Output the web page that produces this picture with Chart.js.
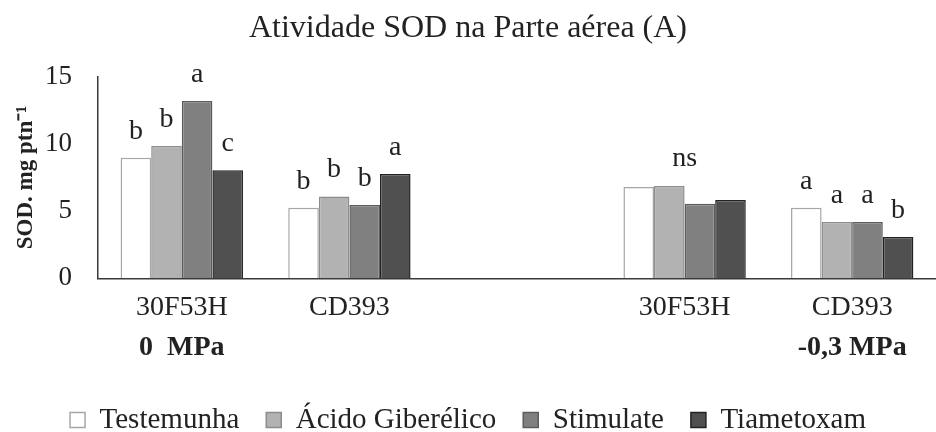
<!DOCTYPE html>
<html>
<head>
<meta charset="utf-8">
<script src="https://cdn.jsdelivr.net/npm/chart.js@4/dist/chart.umd.min.js"></script>
<style>
  html, body { margin: 0; padding: 0; background: #ffffff; }
  #wrap { width: 936px; height: 432px; }
</style>
</head>
<body>
<div id="wrap"><canvas id="c" width="936" height="432"></canvas></div>
<script>
// ---- data ----
const categories = ["30F53H", "CD393", "", "30F53H", "CD393"];
const pressureLabels = ["0  MPa", "", "", "", "-0,3 MPa"];
const seriesNames = ["Testemunha", "Ácido Giberélico", "Stimulate", "Tiametoxam"];
const testemunha = [8.97, 5.25, null, 6.79, 5.25];
const acidoGiberelico = [9.84, 6.09, null, 6.87, 4.19];
const stimulate = [13.19, 5.45, null, 5.55, 4.19];
const tiametoxam = [8.04, 7.76, null, 5.83, 3.07];
const lettersTestemunha = ["b", "b", "", "", "a"];
const lettersAcido = ["b", "b", "", "", "a"];
const lettersStimulate = ["a", "b", "", "", "a"];
const lettersTiametoxam = ["c", "a", "", "", "b"];
const groupNotes = ["", "", "", "ns", ""];
const yTicks = [0, 5, 10, 15];

const FONT = '"Liberation Serif", "Times New Roman", serif';
const TEXT = '#222222';

const letters = [lettersTestemunha, lettersAcido, lettersStimulate, lettersTiametoxam];

const letterPlugin = {
  id: 'letters',
  afterDatasetsDraw(chart) {
    const ctx = chart.ctx;
    ctx.save();
    ctx.font = '28px ' + FONT;
    ctx.fillStyle = TEXT;
    ctx.textAlign = 'center';
    ctx.textBaseline = 'alphabetic';
    chart.data.datasets.forEach((ds, i) => {
      const meta = chart.getDatasetMeta(i);
      meta.data.forEach((bar, j) => {
        const t = letters[i][j];
        if (t && ds.data[j] != null) ctx.fillText(t, bar.x, bar.y - 19);
      });
    });
    groupNotes.forEach((t, j) => {
      if (!t) return;
      let minY = Infinity, xs = [];
      chart.data.datasets.forEach((ds, i) => {
        const bar = chart.getDatasetMeta(i).data[j];
        xs.push(bar.x);
        if (ds.data[j] != null) minY = Math.min(minY, bar.y);
      });
      const cx = (Math.min(...xs) + Math.max(...xs)) / 2;
      ctx.fillText(t, cx, minY - 20);
    });
    ctx.restore();
  }
};

const fills = ['#ffffff', '#b2b2b2', '#808080', '#505050'];
const borders = ['#a6a6a6', '#8c8c8c', '#5c5c5c', '#222222'];
const values = [testemunha, acidoGiberelico, stimulate, tiametoxam];

new Chart(document.getElementById('c'), {
  type: 'bar',
  data: {
    labels: categories,
    datasets: seriesNames.map((name, i) => ({
      label: name,
      data: values[i],
      backgroundColor: fills[i],
      borderColor: borders[i],
      borderWidth: 1.5,
      categoryPercentage: 0.73,
      barPercentage: 1.0
    }))
  },
  options: {
    responsive: false,
    animation: false,
    devicePixelRatio: 1,
    layout: { padding: { left: 0, right: 0, top: 0, bottom: 0 } },
    plugins: {
      title: {
        display: true,
        text: 'Atividade SOD na Parte aérea (A)',
        color: TEXT,
        font: { family: FONT, size: 32, weight: 'normal' },
        padding: { top: 9, bottom: 29.3 }
      },
      legend: {
        display: true,
        position: 'bottom',
        maxHeight: 53.5,
        labels: {
          color: TEXT,
          font: { family: FONT, size: 29 },
          boxWidth: 15,
          boxHeight: 15,
          padding: 27
        }
      },
      tooltip: { enabled: false }
    },
    scales: {
      x: {
        type: 'category',
        position: 'bottom',
        weight: 0,
        offset: true,
        grid: { display: false, drawTicks: false },
        border: { display: true, color: '#3a3a3a', width: 1.5 },
        ticks: {
          color: TEXT,
          font: { family: FONT, size: 28 },
          padding: 13,
          autoSkip: false,
          maxRotation: 0
        },
        afterFit(scale) { scale.height = 46.6; }
      },
      x2: {
        type: 'category',
        position: 'bottom',
        weight: 1,
        labels: pressureLabels,
        offset: true,
        grid: { display: false, drawTicks: false },
        border: { display: false },
        ticks: {
          color: TEXT,
          font: { family: FONT, size: 28, weight: 'bold' },
          padding: 6,
          autoSkip: false,
          maxRotation: 0
        },
        afterFit(scale) { scale.height = 53.6; }
      },
      y: {
        min: 0,
        max: 15,
        grid: { display: false, drawTicks: false },
        border: { display: true, color: '#3a3a3a', width: 1.5 },
        afterBuildTicks(scale) { scale.ticks = yTicks.map(v => ({ value: v })); },
        ticks: {
          color: TEXT,
          font: { family: FONT, size: 27 },
          padding: 26
        },
        title: {
          display: true,
          text: 'SOD. mg ptn⁻¹',
          color: TEXT,
          font: { family: FONT, size: 23, weight: 'bold' },
          padding: { top: 12, bottom: 0 }
        },
        afterFit(scale) { scale.width = 98; }
      }
    }
  },
  plugins: [letterPlugin]
});
</script>
</body>
</html>
